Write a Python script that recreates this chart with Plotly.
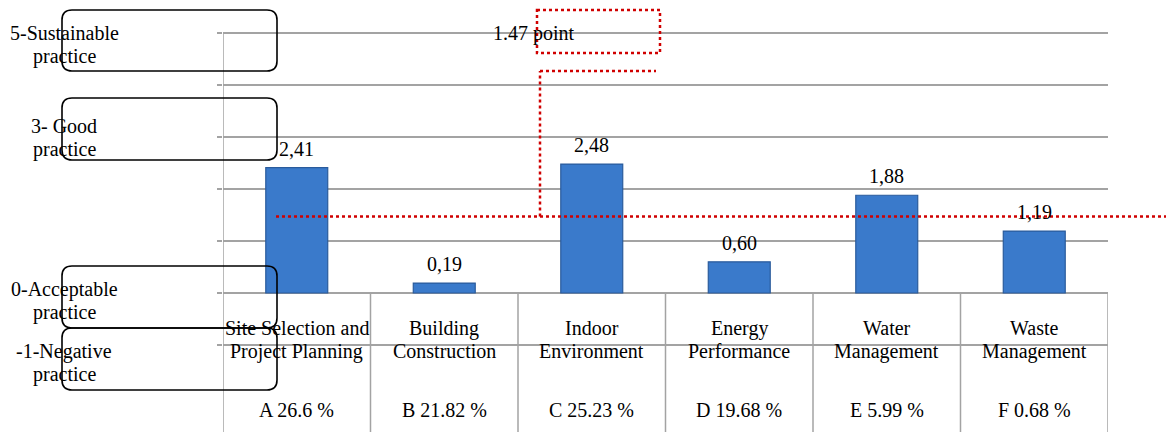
import plotly.graph_objects as go

# ---- data ----
categories = ["Site Selection and\nProject Planning", "Building\nConstruction",
              "Indoor\nEnvironment", "Energy\nPerformance",
              "Water\nManagement", "Waste\nManagement"]
scores = [2.41, 0.19, 2.48, 0.60, 1.88, 1.19]
weights = ["A 26.6 %", "B 21.82 %", "C 25.23 %", "D 19.68 %", "E 5.99 %", "F 0.68 %"]
level_labels = ["5-Sustainable\npractice", "3- Good\npractice",
                "0-Acceptable\npractice", "-1-Negative\npractice"]
level_values = [5, 3, 0, -1]
average_value = 1.47
average_label = "1.47 point"

# ---- layout geometry ----
W, H = 1170, 432
L, R, T, B = 223, 62, 0, 0
PW, PH = W - L - R, H - T - B
Y0PIX = 293.0
PXU = 52.0
ymax = (Y0PIX - T) / PXU
ymin = -(H - B - Y0PIX) / PXU
FONT = "Liberation Serif"
FS = 20
GRID = "#a3a3a3"
RED = "#d00000"


def xp(px):
    return (px - L) / PW


def yp(py):
    return (H - B - py) / PH


def ydat(py):
    return (Y0PIX - py) / PXU


fig = go.Figure()
xs = list(range(len(categories)))
fig.add_trace(go.Bar(
    x=xs, y=scores, width=0.42,
    marker=dict(color="#3A7ACB", line=dict(color="#2A5B9C", width=1.2)),
    hoverinfo="skip",
))

ann = []
for i, v in enumerate(scores):
    ann.append(dict(x=i, y=v, xref="x", yref="y", text=f"{v:.2f}".replace(".", ","),
                    showarrow=False, yanchor="bottom", yshift=6,
                    font=dict(family=FONT, size=FS, color="black")))
for i, c in enumerate(categories):
    for k, ln in enumerate(c.split("\n")):
        ann.append(dict(x=i, y=ydat(328 + 23 * k), xref="x", yref="y", text=ln,
                        showarrow=False, yanchor="middle",
                        font=dict(family=FONT, size=FS, color="black")))
    ann.append(dict(x=i, y=ydat(410), xref="x", yref="y", text=weights[i],
                    showarrow=False, yanchor="middle",
                    font=dict(family=FONT, size=FS, color="black")))

level_pix = [33, 126, 289, 351]
for lab, p in zip(level_labels, level_pix):
    for k, ln in enumerate(lab.split("\n")):
        ann.append(dict(x=xp(64), y=ydat(p + 23 * k), xref="paper", yref="y", text=ln,
                        showarrow=False, xanchor="center", yanchor="middle",
                        font=dict(family=FONT, size=FS, color="black")))

ann.append(dict(x=xp(534), y=ydat(33), xref="paper", yref="y", text=average_label,
                showarrow=False, xanchor="center", yanchor="middle",
                font=dict(family=FONT, size=FS, color="black")))

shapes = []
shapes.append(dict(type="line", xref="x", yref="y", x0=-0.5, x1=-0.5, y0=5, y1=ymin,
                   line=dict(color=GRID, width=1.5)))
for i in range(len(categories)):
    shapes.append(dict(type="line", xref="x", yref="y", x0=i + 0.5, x1=i + 0.5,
                       y0=0, y1=ymin, line=dict(color=GRID, width=1.5)))


def rounded(px0, py0, px1, py1, r=10):
    rx = r / PW
    ry = r / PH
    x0, x1 = xp(px0), xp(px1)
    yt, yb = yp(py0), yp(py1)
    path = (f"M {x0+rx},{yt} L {x1-rx},{yt} Q {x1},{yt} {x1},{yt-ry} "
            f"L {x1},{yb+ry} Q {x1},{yb} {x1-rx},{yb} "
            f"L {x0+rx},{yb} Q {x0},{yb} {x0},{yb+ry} "
            f"L {x0},{yt-ry} Q {x0},{yt} {x0+rx},{yt} Z")
    return dict(type="path", xref="paper", yref="paper", path=path,
                line=dict(color="black", width=1.6), fillcolor="rgba(0,0,0,0)")


for (a, b) in [(10, 71), (98, 160), (266, 328), (328, 390)]:
    shapes.append(rounded(62, a, 277, b))

dot = dict(color=RED, width=2.5, dash="dot")
shapes.append(dict(type="line", xref="paper", yref="y", x0=xp(276), x1=xp(1166),
                   y0=average_value, y1=average_value, line=dot))
shapes.append(dict(type="line", xref="paper", yref="y", x0=xp(540), x1=xp(540),
                   y0=average_value, y1=ydat(71), line=dot))
shapes.append(dict(type="line", xref="paper", yref="y", x0=xp(540), x1=xp(656),
                   y0=ydat(71), y1=ydat(71), line=dot))
shapes.append(dict(type="rect", xref="paper", yref="y", x0=xp(537), x1=xp(660),
                   y0=ydat(10), y1=ydat(53), line=dot, fillcolor="rgba(0,0,0,0)"))

fig.update_layout(
    width=W, height=H,
    margin=dict(l=L, r=R, t=T, b=B, pad=0),
    paper_bgcolor="white", plot_bgcolor="white",
    showlegend=False,
    font=dict(family=FONT, size=FS, color="black"),
    xaxis=dict(range=[-0.5, 5.5], showgrid=False, zeroline=False, showline=False,
               showticklabels=False, ticks=""),
    yaxis=dict(range=[ymin, ymax], tickvals=[-1, 0, 1, 2, 3, 4, 5], showticklabels=False,
               showgrid=True, gridcolor=GRID, gridwidth=1.5, zeroline=False,
               showline=False, ticks="outside", ticklen=5, tickcolor=GRID, tickwidth=1.5),
    annotations=ann,
    shapes=shapes,
)

fig.write_html("out.html", config={"displayModeBar": False},
               post_script="document.body.style.margin='0';document.body.style.overflow='hidden';")
